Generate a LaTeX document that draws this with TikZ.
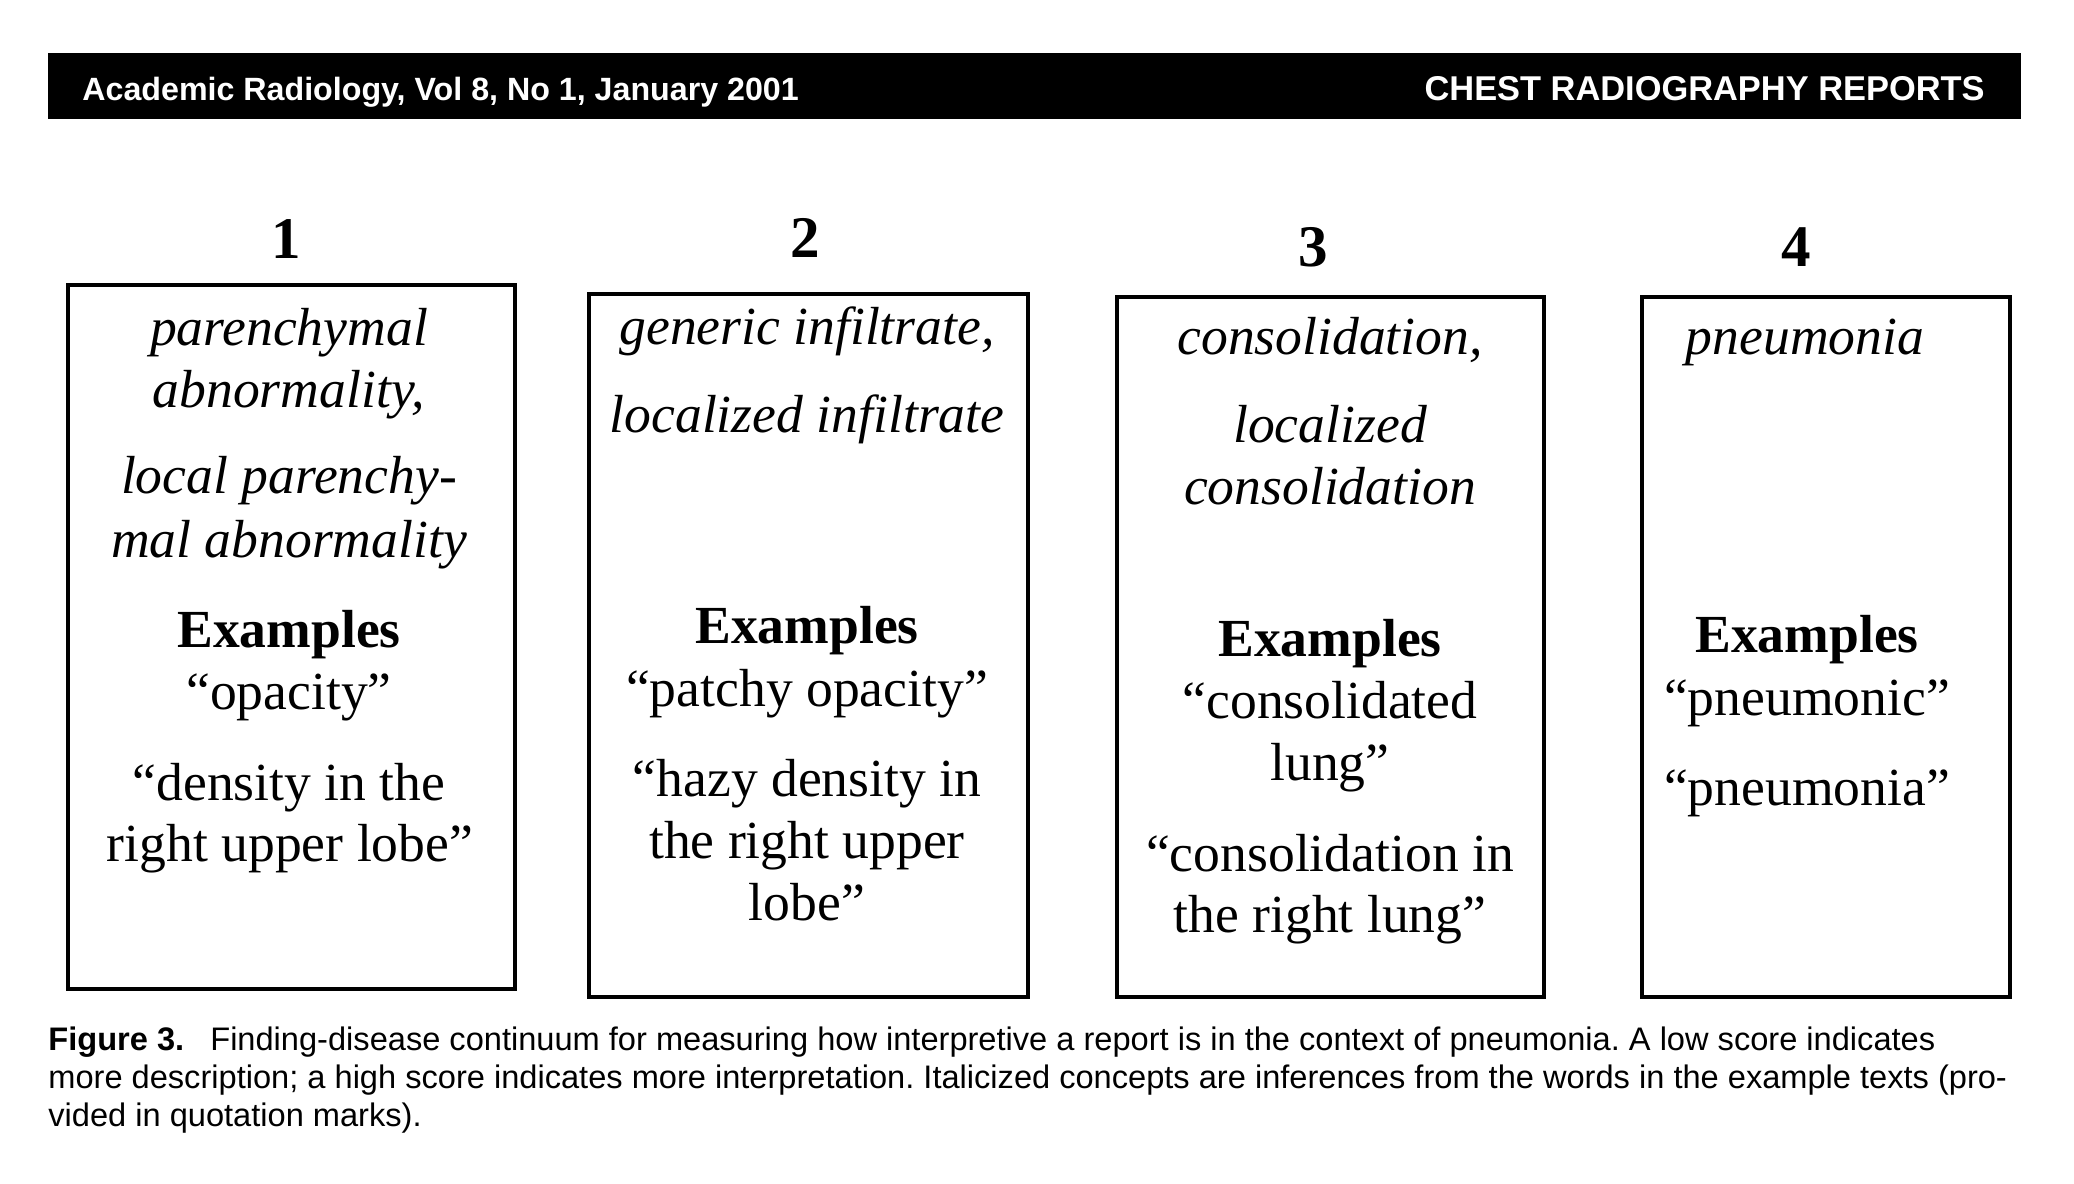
\documentclass[tikz,border=0pt]{standalone}
\usepackage{fontspec}
\setmainfont{Liberation Serif}
\newfontfamily\hfont{Liberation Sans}
\begin{document}
\frenchspacing
\begin{tikzpicture}[x=0.5pt,y=-0.5pt,
  boxtext/.style={anchor=base,inner sep=0pt,font=\fontsize{26.8}{32}\selectfont},
  concept/.style={anchor=base,inner sep=0pt,font=\fontsize{26.8}{32}\selectfont\itshape},
  exhead/.style={anchor=base,inner sep=0pt,font=\fontsize{26.8}{32}\selectfont\bfseries},
  numlabel/.style={anchor=base,inner sep=0pt,font=\fontsize{29.5}{34}\selectfont\bfseries},
  panel/.style={draw,line width=2pt,inner sep=0pt,anchor=north west},
  headtext/.style={inner sep=0pt,text=white,font=\hfont\bfseries},
  captext/.style={anchor=base west,inner sep=0pt,font=\hfont\fontsize{16.3}{19}\selectfont}
]
\useasboundingbox (0,0) rectangle (2074,1184);

% journal header bar
\fill[black] (48,53) rectangle (2021,119);
\node[headtext,anchor=base west,font=\hfont\bfseries\fontsize{16.1}{19}\selectfont] (hleft) at (82,100) {Academic Radiology, Vol 8, No 1, January 2001};
\node[headtext,anchor=base east,font=\hfont\bfseries\fontsize{17.2}{20}\selectfont] (hright) at (1985,100) {CHEST RADIOGRAPHY REPORTS};

% scale numbers
\node[numlabel] (n1) at (286,258) {1};
\node[numlabel] (n2) at (805,257) {2};
\node[numlabel] (n3) at (1313,266) {3};
\node[numlabel] (n4) at (1796,266) {4};

% panels
\node[panel,minimum width=223.5pt,minimum height=352pt] (p1) at (66,283) {};
\node[panel,minimum width=219.5pt,minimum height=351.5pt] (p2) at (587,292) {};
\node[panel,minimum width=213.5pt,minimum height=350pt] (p3) at (1115,295) {};
\node[panel,minimum width=184pt,minimum height=350pt] (p4) at (1640,295) {};

% panel 1
\node[concept] (a1) at (289,345) {parenchymal};
\node[concept] (a2) at (289,407) {abnormality,};
\node[concept] (a3) at (289,493) {local parenchy-};
\node[concept] (a4) at (289,557) {mal abnormality};
\node[exhead]  (a5) at (289,647) {Examples};
\node[boxtext] (a6) at (289,709) {“opacity”};
\node[boxtext] (a7) at (289,800) {“density in the};
\node[boxtext] (a8) at (290,861) {right upper lobe”};

% panel 2
\node[concept] (b1) at (807,344) {generic infiltrate,};
\node[concept] (b2) at (807,432) {localized infiltrate};
\node[exhead]  (b3) at (807,643) {Examples};
\node[boxtext] (b4) at (807,706) {“patchy opacity”};
\node[boxtext] (b5) at (807,796) {“hazy density in};
\node[boxtext] (b6) at (807,858) {the right upper};
\node[boxtext] (b7) at (807,920) {lobe”};

% panel 3
\node[concept] (c1) at (1330,354) {consolidation,};
\node[concept] (c2) at (1330,442) {localized};
\node[concept] (c3) at (1330,504) {consolidation};
\node[exhead]  (c4) at (1330,656) {Examples};
\node[boxtext] (c5) at (1330,718) {“consolidated};
\node[boxtext] (c6) at (1330,780) {lung”};
\node[boxtext] (c7) at (1330,871) {“consolidation in};
\node[boxtext] (c8) at (1330,932) {the right lung”};

% panel 4
\node[concept] (d1) at (1805,354) {pneumonia};
\node[exhead]  (d2) at (1807,652) {Examples};
\node[boxtext] (d3) at (1807,715) {“pneumonic”};
\node[boxtext] (d4) at (1807,805) {“pneumonia”};

% caption
\node[captext] (cap1) at (48,1050) {\textbf{Figure 3.}\hspace{0.8em}Finding-disease continuum for measuring how interpretive a report is in the context of pneumonia. A low score indicates};
\node[captext] (cap2) at (48,1088) {more description; a high score indicates more interpretation. Italicized concepts are inferences from the words in the example texts (pro-};
\node[captext] (cap3) at (48,1126) {vided in quotation marks).};
\end{tikzpicture}
\end{document}
